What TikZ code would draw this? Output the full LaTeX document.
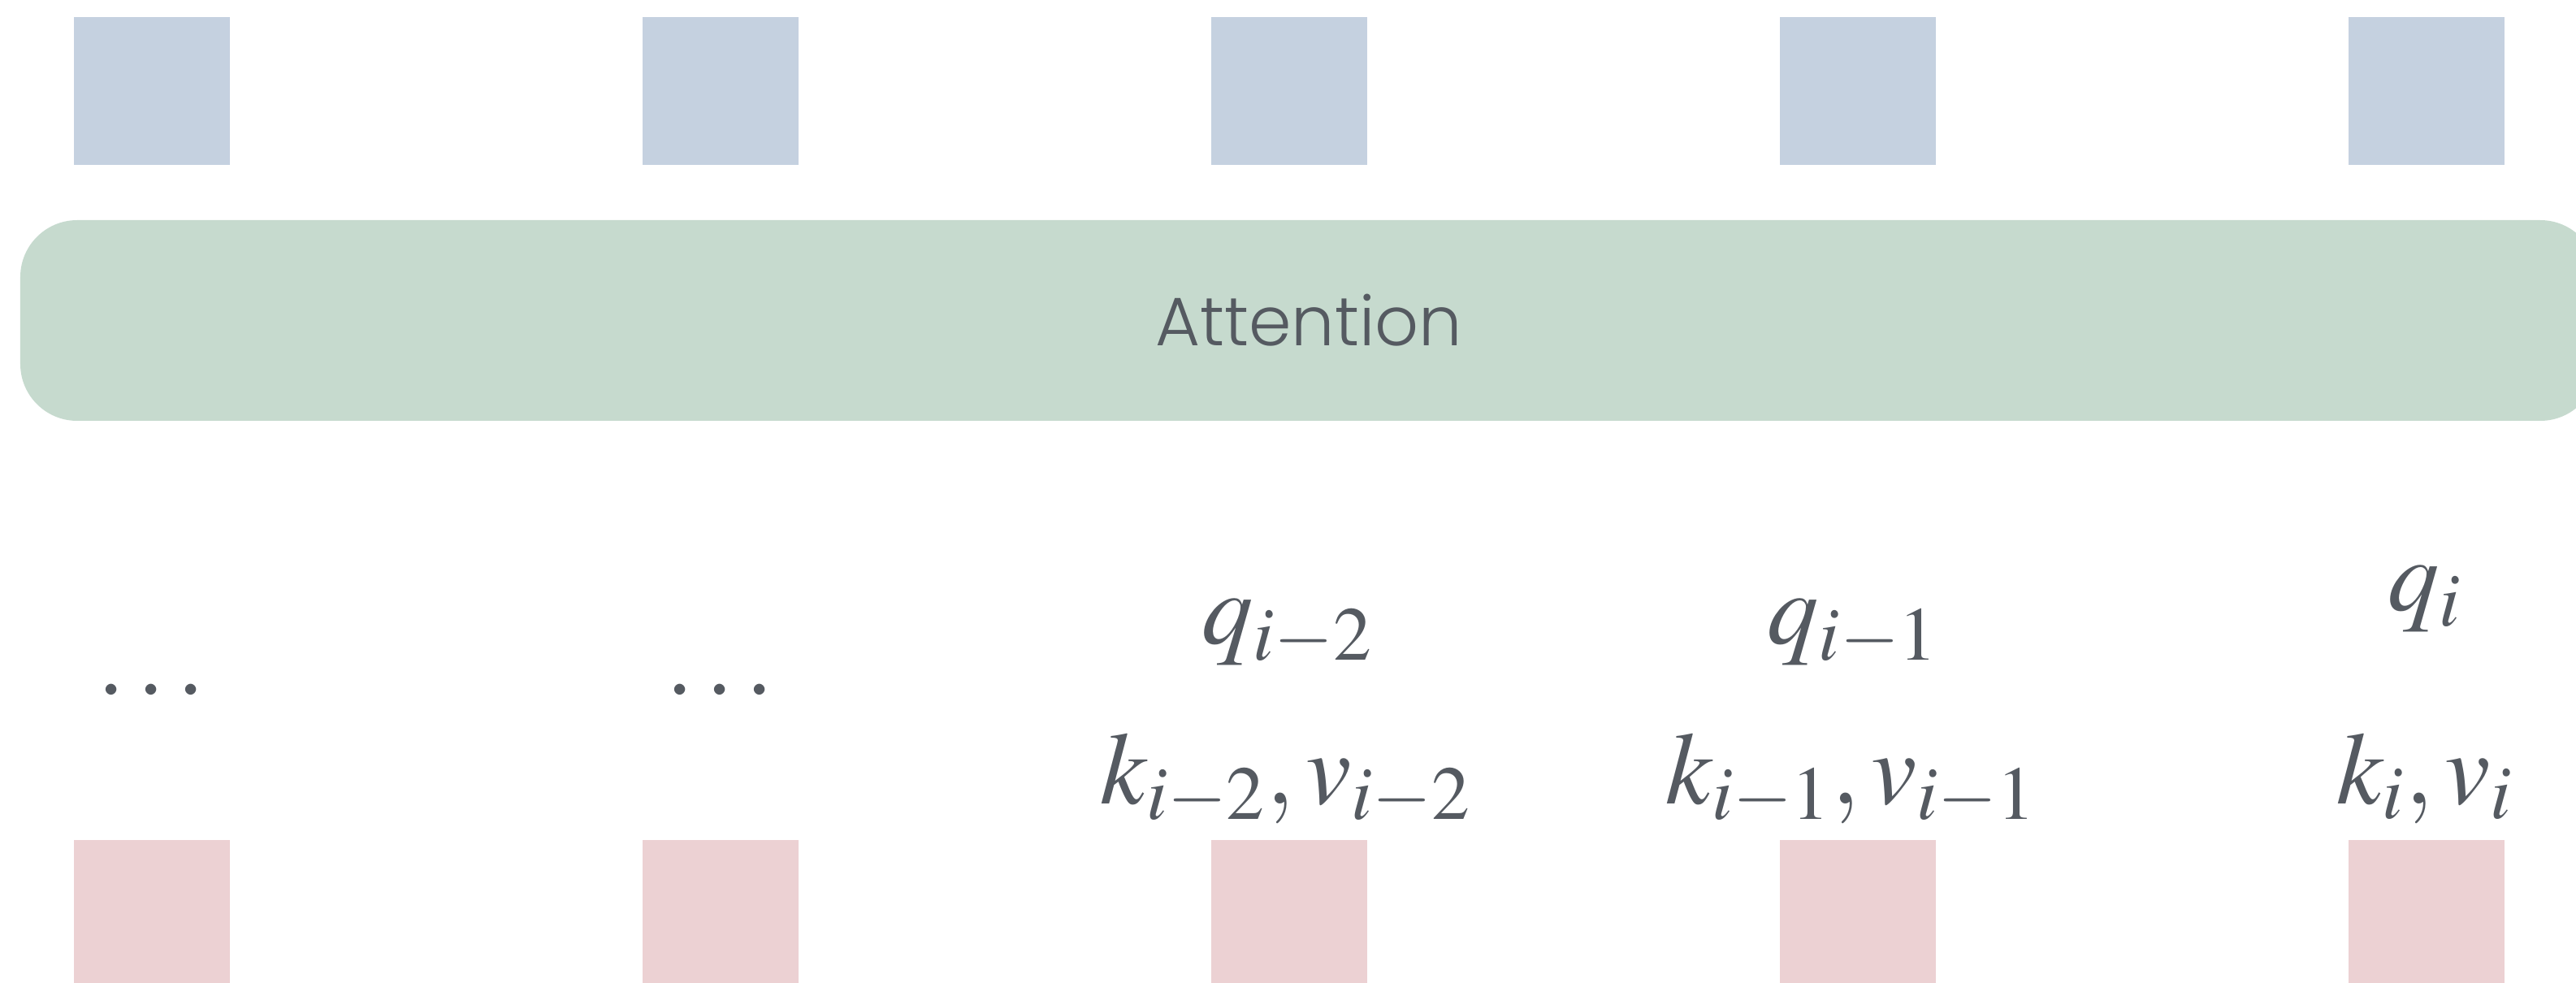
\documentclass[tikz,border=0pt]{standalone}
\usepackage[no-math]{fontspec}
\usepackage{mathptmx}
\usepackage{xcolor}
\usepackage{tikz}
\usetikzlibrary{positioning}

\newfontfamily\attnfont{Poppins Light}
\definecolor{qblue}{HTML}{C5D1E0}
\definecolor{kvpink}{HTML}{ECD1D3}
\definecolor{attngreen}{HTML}{C6DACE}
\definecolor{inkgray}{HTML}{555A61}

\begin{document}
\begin{tikzpicture}[
  outbox/.style={fill=qblue,minimum width=1.92cm,minimum height=1.82cm,inner sep=0pt},
  inbox/.style={fill=kvpink,minimum width=1.92cm,minimum height=1.82cm,inner sep=0pt},
  attnbar/.style={fill=attngreen,rounded corners=0.7cm,minimum width=31.72cm,minimum height=2.47cm,
    inner sep=0pt,text=inkgray,font=\attnfont\fontsize{24}{29}\selectfont},
  lab/.style={anchor=base,inner sep=0pt,text=inkgray,font=\fontsize{36}{43}\selectfont},
]
\useasboundingbox (0,0) rectangle (31.71,-12.10);
\node[outbox] (out1) at (1.87,-1.12)  {};
\node[outbox] (out2) at (8.87,-1.12)  {};
\node[outbox] (out3) at (15.87,-1.12) {};
\node[outbox] (out4) at (22.87,-1.12) {};
\node[outbox] (out5) at (29.87,-1.12) {};
\node[attnbar] (attn) at (16.11,-3.945) {Attention};
\node[lab] (dots1) at (1.86,-8.80)  {$\cdots$};
\node[lab] (dots2) at (8.86,-8.80)  {$\cdots$};
\node[lab] (q3)    at (15.85,-7.93) {$q_{i-2}$};
\node[lab] (q4)    at (22.81,-7.93) {$q_{i-1}$};
\node[lab] (q5)    at (29.85,-7.52) {$q_i$};
\node[lab] (kv3)   at (15.83,-9.89) {$k_{i-2}, v_{i-2}$};
\node[lab] (kv4)   at (22.79,-9.89) {$k_{i-1}, v_{i-1}$};
\node[lab] (kv5)   at (29.85,-9.89) {$k_i, v_i$};
\node[inbox] (in1) at (1.87,-11.25)  {};
\node[inbox] (in2) at (8.87,-11.25)  {};
\node[inbox] (in3) at (15.87,-11.25) {};
\node[inbox] (in4) at (22.87,-11.25) {};
\node[inbox] (in5) at (29.87,-11.25) {};
\end{tikzpicture}
\end{document}
